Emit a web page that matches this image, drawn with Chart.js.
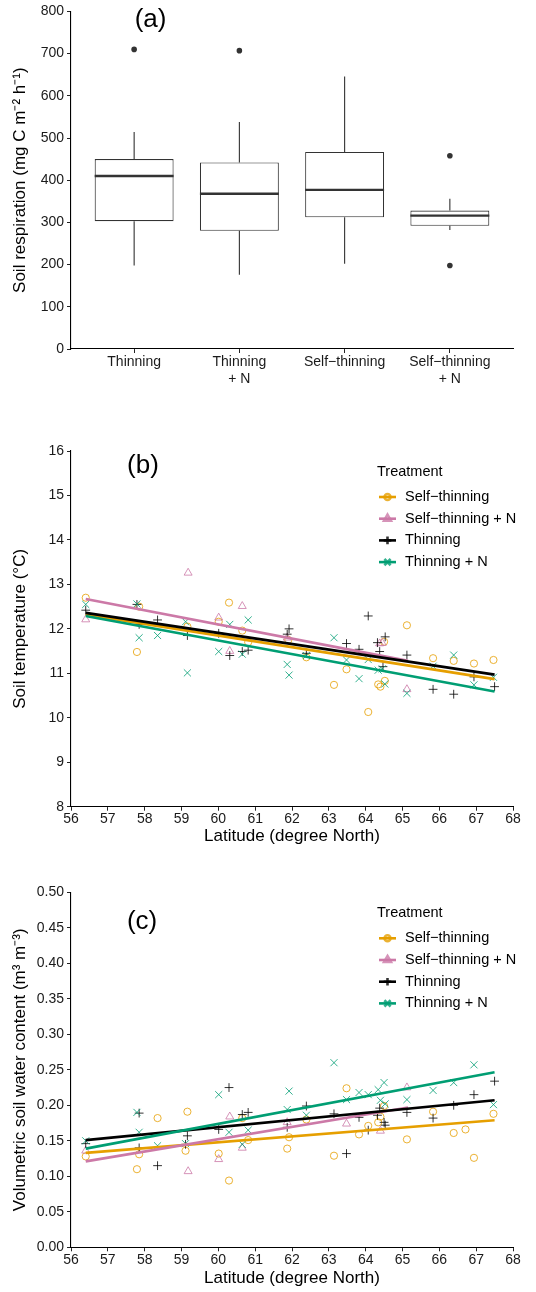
<!DOCTYPE html>
<html>
<head>
<meta charset="utf-8">
<title>Soil respiration, temperature and water content by treatment</title>
<script src="https://cdn.jsdelivr.net/npm/chart.js@4.4.1/dist/chart.umd.min.js"></script>
<style>
  html, body { margin: 0; padding: 0; background: #ffffff; }
  #wrap { position: relative; width: 536px; height: 1292px; }
  #wrap canvas { position: absolute; left: 0; }
</style>
</head>
<body>
<div id="wrap">
  <canvas id="respChart" width="536" height="420" style="top:0px"></canvas>
  <canvas id="tempChart" width="536" height="430" style="top:420px"></canvas>
  <canvas id="waterChart" width="536" height="442" style="top:850px"></canvas>
</div>
<script>
// ---------- (a) soil respiration box plots ----------
const treatments = ['Thinning', 'Thinning + N', 'Self−thinning', 'Self−thinning + N'];
const treatmentTickLabels = [['Thinning'], ['Thinning', '+ N'], ['Self−thinning'], ['Self−thinning', '+ N']];
const respWhiskerLow  = [198, 176, 202, 282];
const respQ1          = [303, 280, 312, 292];
const respMedian      = [410, 368, 377, 316];
const respQ3          = [450, 442, 467, 328];
const respWhiskerHigh = [514, 538, 646, 356];
const respOutliers    = [[710], [707], [], [458, 198]];
const respTicks = [0, 100, 200, 300, 400, 500, 600, 700, 800];

// ---------- shared latitude axis ----------
const latitudeTicks = [56, 57, 58, 59, 60, 61, 62, 63, 64, 65, 66, 67, 68];
const seriesNames = ['Self−thinning', 'Self−thinning + N', 'Thinning', 'Thinning + N'];

// ---------- (b) soil temperature, [latitude, °C] ----------
const tempTicks = [8, 9, 10, 11, 12, 13, 14, 15, 16];
const tempSelfThinning = [
  [56.40, 12.70], [57.79, 11.48], [57.85, 12.50], [59.16, 12.05], [60.01, 12.16], [60.29, 12.59],
  [60.65, 11.96], [60.81, 11.70], [61.90, 11.75], [62.39, 11.36], [63.14, 10.74], [63.48, 11.09],
  [64.07, 10.13], [64.34, 10.75], [64.40, 10.70], [64.50, 11.71], [64.52, 10.83], [65.12, 12.08],
  [65.83, 11.34], [66.39, 11.28], [66.94, 11.22], [67.47, 11.30]
];
const tempSelfThinningN = [
  [56.40, 12.21], [59.18, 13.26], [60.01, 12.25], [60.31, 11.50], [60.65, 12.51], [61.87, 11.80],
  [64.38, 11.67], [64.45, 11.68], [65.12, 10.64]
];
const tempThinning = [
  [56.40, 12.42], [57.79, 12.55], [57.85, 12.10], [58.35, 12.20], [59.16, 11.85], [60.01, 11.90],
  [60.31, 11.40], [60.65, 11.49], [60.81, 11.52], [61.87, 11.88], [61.92, 12.00], [62.39, 11.45],
  [63.48, 11.67], [63.82, 11.54], [64.07, 12.29], [64.32, 11.69], [64.38, 11.49], [64.47, 11.15],
  [64.53, 11.82], [65.12, 11.41], [65.83, 10.64], [66.39, 10.53], [66.94, 10.92], [67.50, 10.70]
];
const tempThinningN = [
  [56.40, 12.55], [57.79, 12.56], [57.85, 11.80], [58.35, 11.85], [59.11, 12.16], [59.16, 11.01],
  [60.01, 11.49], [60.31, 12.10], [60.65, 11.43], [60.81, 12.20], [61.87, 11.20], [61.92, 10.96],
  [62.39, 11.40], [63.14, 11.80], [63.48, 11.30], [63.82, 10.88], [64.07, 11.31], [64.34, 11.07],
  [64.45, 11.10], [64.52, 10.76], [65.12, 10.55], [65.83, 11.16], [66.39, 11.41], [66.94, 10.74],
  [67.47, 10.91]
];
// fitted linear trends (end points)
const tempFitSelfThinning  = [[56.4, 12.32], [67.5, 10.87]];
const tempFitSelfThinningN = [[56.4, 12.67], [65.15, 11.28]];
const tempFitThinning      = [[56.4, 12.36], [67.5, 10.97]];
const tempFitThinningN     = [[56.4, 12.29], [67.5, 10.59]];

// ---------- (c) volumetric soil water content, [latitude, m3 m-3] ----------
const waterTicks = [0, 0.05, 0.10, 0.15, 0.20, 0.25, 0.30, 0.35, 0.40, 0.45, 0.50];
const waterSelfThinning = [
  [56.40, 0.128], [57.79, 0.110], [57.85, 0.131], [58.35, 0.182], [59.11, 0.136], [59.16, 0.191],
  [60.01, 0.132], [60.29, 0.094], [60.65, 0.182], [60.81, 0.151], [61.87, 0.139], [61.92, 0.155],
  [62.39, 0.180], [63.14, 0.129], [63.48, 0.224], [63.82, 0.159], [64.07, 0.171], [64.34, 0.176],
  [64.40, 0.184], [64.50, 0.199], [65.12, 0.152], [65.83, 0.191], [66.39, 0.161], [66.71, 0.166],
  [66.94, 0.126], [67.47, 0.188]
];
const waterSelfThinningN = [
  [56.40, 0.136], [59.18, 0.107], [60.01, 0.124], [60.31, 0.184], [60.65, 0.140], [61.87, 0.176],
  [63.48, 0.174], [64.40, 0.164], [65.12, 0.225]
];
const waterThinning = [
  [56.40, 0.146], [57.85, 0.189], [57.85, 0.140], [58.35, 0.115], [59.11, 0.145], [59.16, 0.157],
  [60.01, 0.166], [60.29, 0.225], [60.65, 0.187], [60.81, 0.190], [61.87, 0.169], [62.39, 0.199],
  [63.14, 0.188], [63.48, 0.132], [63.82, 0.183], [64.07, 0.165], [64.32, 0.186], [64.38, 0.196],
  [64.50, 0.176], [64.53, 0.172], [65.12, 0.190], [65.83, 0.182], [66.39, 0.200], [66.94, 0.215],
  [67.50, 0.234]
];
const waterThinningN = [
  [56.40, 0.150], [57.79, 0.190], [57.85, 0.162], [58.35, 0.143], [59.11, 0.146], [60.01, 0.215],
  [60.29, 0.162], [60.65, 0.145], [60.81, 0.165], [61.87, 0.194], [61.92, 0.220], [62.39, 0.186],
  [63.14, 0.260], [63.48, 0.208], [63.82, 0.218], [64.07, 0.215], [64.34, 0.222], [64.40, 0.207],
  [64.50, 0.232], [64.53, 0.202], [65.12, 0.208], [65.83, 0.221], [66.39, 0.232], [66.94, 0.257],
  [67.47, 0.201]
];
const waterFitSelfThinning  = [[56.4, 0.133], [67.5, 0.179]];
const waterFitSelfThinningN = [[56.4, 0.121], [65.15, 0.197]];
const waterFitThinning      = [[56.4, 0.151], [67.5, 0.207]];
const waterFitThinningN     = [[56.4, 0.139], [67.5, 0.2465]];

// ---------- styling ----------
const FONT = "'Liberation Sans', Arial, Helvetica, sans-serif";
const INK = '#000000';
const TICK_INK = '#1a1a1a';
const seriesStyles = [
  { color: '#E69F00', marker: 'rgba(230,159,0,0.8)',   pointStyle: 'circle',   radius: 3.6 },
  { color: '#CC79A7', marker: 'rgba(204,121,167,0.8)', pointStyle: 'triangle', radius: 4.6 },
  { color: '#000000', marker: 'rgba(0,0,0,0.8)',       pointStyle: 'cross',    radius: 4.4 },
  { color: '#009E73', marker: 'rgba(0,158,115,0.8)',   pointStyle: 'crossRot', radius: 5.0 }
];

Chart.defaults.font.family = FONT;
Chart.defaults.animation = false;
Chart.defaults.plugins.legend.display = false;
Chart.defaults.plugins.tooltip.enabled = false;

function baseAxis(extra) {
  return Object.assign({
    grid: { display: true, drawOnChartArea: false, drawTicks: true, tickLength: 4, color: '#222', lineWidth: 1, offset: false },
    border: { display: true, color: INK, width: 1.1 },
    ticks: { color: TICK_INK, font: { family: FONT, size: 14 }, padding: 3 }
  }, extra);
}

function yAxis(min, max, tickValues, title, fmt) {
  return baseAxis({
    type: 'linear', min: min, max: max,
    afterBuildTicks: s => { s.ticks = tickValues.map(v => ({ value: v })); },
    afterFit: s => { s.width = 71; },
    ticks: { color: TICK_INK, font: { family: FONT, size: 14 }, padding: 3, callback: fmt || (v => String(v)) },
    title: { display: true, text: title, color: INK, font: { family: FONT, size: 17 }, padding: { top: 10, bottom: 0 } }
  });
}

function latitudeAxis(axisHeight, titlePad) {
  return baseAxis({
    type: 'linear', min: 56, max: 68,
    afterBuildTicks: s => { s.ticks = latitudeTicks.map(v => ({ value: v })); },
    afterFit: s => { s.height = axisHeight; },
    ticks: { color: TICK_INK, font: { family: FONT, size: 14 }, padding: 0, maxRotation: 0 },
    title: { display: true, text: 'Latitude (degree North)', color: INK, font: { family: FONT, size: 17 }, padding: { top: 0, bottom: titlePad } }
  });
}

// panel letter placed in data coordinates
const panelTag = {
  id: 'panelTag',
  afterDatasetsDraw(chart, args, opts) {
    const { ctx, scales } = chart;
    ctx.save();
    ctx.font = `26px ${FONT}`;
    ctx.fillStyle = INK;
    ctx.textAlign = 'center';
    ctx.textBaseline = 'middle';
    ctx.fillText(opts.text, scales.x.getPixelForValue(opts.at[0]), scales.y.getPixelForValue(opts.at[1]));
    ctx.restore();
  }
};

// whiskers and medians for the box plot, drawn on the bar elements' geometry
const boxWhiskers = {
  id: 'boxWhiskers',
  afterDatasetsDraw(chart) {
    const { ctx } = chart;
    const y = chart.scales.y;
    const bars = chart.getDatasetMeta(0).data;
    ctx.save();
    ctx.strokeStyle = '#333333';
    bars.forEach((bar, i) => {
      const cx = bar.x, half = bar.width / 2;
      ctx.lineWidth = 1.1;
      ctx.beginPath();
      ctx.moveTo(cx, y.getPixelForValue(respWhiskerHigh[i]));
      ctx.lineTo(cx, y.getPixelForValue(respQ3[i]));
      ctx.moveTo(cx, y.getPixelForValue(respQ1[i]));
      ctx.lineTo(cx, y.getPixelForValue(respWhiskerLow[i]));
      ctx.stroke();
      const my = y.getPixelForValue(respMedian[i]);
      ctx.lineWidth = 2.4;
      ctx.beginPath();
      ctx.moveTo(cx - half, my);
      ctx.lineTo(cx + half, my);
      ctx.stroke();
    });
    ctx.restore();
  }
};

// "Treatment" key inside the plotting area
const treatmentKey = {
  id: 'treatmentKey',
  afterDraw(chart) {
    const { ctx, chartArea } = chart;
    const x0 = chartArea.left + 306;
    ctx.save();
    ctx.font = `14.5px ${FONT}`;
    ctx.fillStyle = INK;
    ctx.textAlign = 'left';
    ctx.textBaseline = 'middle';
    ctx.fillText('Treatment', x0, chartArea.top + 21);
    seriesNames.forEach((name, i) => {
      const st = seriesStyles[i];
      const y = chartArea.top + 46 + i * 21.7;
      ctx.strokeStyle = st.color;
      ctx.lineWidth = 2.6;
      ctx.beginPath();
      ctx.moveTo(x0 + 2, y);
      ctx.lineTo(x0 + 19, y);
      ctx.stroke();
      ctx.strokeStyle = st.marker;
      ctx.fillStyle = 'rgba(0,0,0,0)';
      Chart.helpers.drawPoint(ctx, { pointStyle: st.pointStyle, radius: st.radius - 0.6, borderWidth: 1, rotation: 0 }, x0 + 10.5, y);
      ctx.fillStyle = INK;
      ctx.fillText(name, x0 + 28, y);
    });
    ctx.restore();
  }
};

function scatterDatasets(points, fits) {
  const lines = fits.map((fit, i) => ({
    type: 'line', data: fit, borderColor: seriesStyles[i].color, borderWidth: 2.6,
    pointRadius: 0, fill: false, tension: 0, order: [4, 3, 2, 1][i]
  }));
  const marks = points.map((pts, i) => ({
    type: 'scatter', data: pts, showLine: false,
    pointStyle: seriesStyles[i].pointStyle, pointRadius: seriesStyles[i].radius,
    pointBorderColor: seriesStyles[i].marker, pointBackgroundColor: 'rgba(0,0,0,0)',
    pointBorderWidth: 1, order: [8, 7, 6, 5][i]
  }));
  return lines.concat(marks);
}

// (a) chart area: x 71..513, y 10..349
new Chart(document.getElementById('respChart'), {
  type: 'bar',
  data: {
    datasets: [
      {
        type: 'bar',
        data: treatments.map((t, i) => ({ x: i + 1, y: [respQ1[i], respQ3[i]] })),
        backgroundColor: '#ffffff', borderColor: '#333333', borderWidth: 1.1, borderSkipped: false,
        barPercentage: 0.75, categoryPercentage: 1
      },
      {
        type: 'scatter',
        data: respOutliers.flatMap((vals, i) => vals.map(v => ({ x: i + 1, y: v }))),
        pointRadius: 2.8, pointBackgroundColor: '#333333', pointBorderWidth: 0
      }
    ]
  },
  options: {
    responsive: false,
    layout: { padding: { left: 0, top: 10, right: 23, bottom: 0 } },
    scales: {
      x: baseAxis({
        type: 'linear', min: 0.4, max: 4.6, offset: false,
        afterBuildTicks: s => { s.ticks = treatments.map((t, i) => ({ value: i + 1 })); },
        afterFit: s => { s.height = 71; },
        ticks: { color: TICK_INK, font: { family: FONT, size: 14, lineHeight: 1.2 }, padding: 1, maxRotation: 0,
                 callback: v => treatmentTickLabels[Math.round(v) - 1] }
      }),
      y: yAxis(0, 800, respTicks, 'Soil respiration (mg C m⁻² h⁻¹)')
    },
    plugins: { panelTag: { text: '(a)', at: [1.156, 780] } }
  },
  plugins: [boxWhiskers, panelTag]
});

// (b) chart area: y 31..386.7 within its canvas
new Chart(document.getElementById('tempChart'), {
  type: 'scatter',
  data: {
    datasets: scatterDatasets(
      [tempSelfThinning, tempSelfThinningN, tempThinning, tempThinningN],
      [tempFitSelfThinning, tempFitSelfThinningN, tempFitThinning, tempFitThinningN])
  },
  options: {
    responsive: false,
    layout: { padding: { left: 0, top: 31, right: 23, bottom: 0 } },
    scales: {
      x: latitudeAxis(43.3, 3),
      y: yAxis(8, 16, tempTicks, 'Soil temperature (°C)')
    },
    plugins: { panelTag: { text: '(b)', at: [57.955, 15.66] } }
  },
  plugins: [panelTag, treatmentKey]
});

// (c) chart area: y 42.3..397.3 within its canvas
new Chart(document.getElementById('waterChart'), {
  type: 'scatter',
  data: {
    datasets: scatterDatasets(
      [waterSelfThinning, waterSelfThinningN, waterThinning, waterThinningN],
      [waterFitSelfThinning, waterFitSelfThinningN, waterFitThinning, waterFitThinningN])
  },
  options: {
    responsive: false,
    layout: { padding: { left: 0, top: 42.3, right: 23, bottom: 0 } },
    scales: {
      x: latitudeAxis(44.7, 3.8),
      y: yAxis(0, 0.5, waterTicks, 'Volumetric soil water content (m³ m⁻³)', v => v.toFixed(2))
    },
    plugins: { panelTag: { text: '(c)', at: [57.93, 0.4586] } }
  },
  plugins: [panelTag, treatmentKey]
});
</script>
</body>
</html>
